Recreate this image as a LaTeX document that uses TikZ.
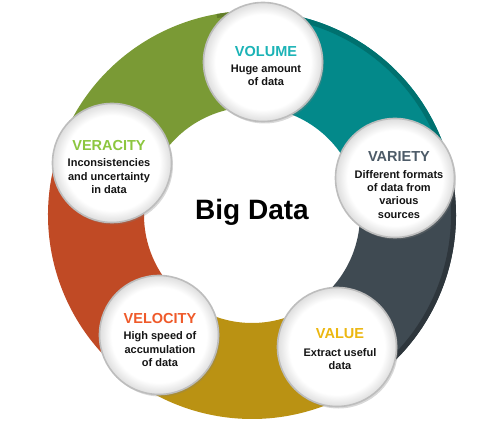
\documentclass[tikz,border=0pt]{standalone}
\usepackage{fontspec}
\setmainfont{Liberation Sans}
\usetikzlibrary{shadows}
\definecolor{BDTeal}{HTML}{03898A}
\definecolor{BDTealDark}{HTML}{00716F}
\definecolor{BDSlate}{HTML}{3F4A52}
\definecolor{BDSlateDark}{HTML}{2E363C}
\definecolor{BDGold}{HTML}{BA9213}
\definecolor{BDRust}{HTML}{C04A25}
\definecolor{BDOlive}{HTML}{7A9A35}
\definecolor{BDOliveDark}{HTML}{627D28}
\definecolor{BDTealText}{HTML}{1BB3B6}
\definecolor{BDSlateText}{HTML}{4D5B68}
\definecolor{BDGoldText}{HTML}{ECB710}
\definecolor{BDRustText}{HTML}{EF5A2A}
\definecolor{BDOliveText}{HTML}{8CC63F}
\pgfdeclareradialshading{bubble}{\pgfpoint{0bp}{0bp}}{color(0bp)=(white); color(20bp)=(white); color(25bp)=(black!13); color(50bp)=(black!13)}
\newcommand{\titlefont}{\fontsize{14.5}{16}\selectfont}
\tikzset{
    % White bubbles sitting on the ring
    bubble/.style={
        circle,
        draw=black!26,
        line width=1.6pt,
        shading=bubble,
        minimum size=119pt,
        inner sep=0pt,
        drop shadow={opacity=0.3, shadow xshift=1.5pt, shadow yshift=-2pt}
    },
    bubble text/.style={
        align=center,
        inner sep=0pt,
        text=black!92,
        font=\bfseries\fontsize{11}{13.3}\selectfont
    },
    center label/.style={
        font=\bfseries\fontsize{28}{32}\selectfont,
        text=black
    }
}
\begin{document}
\begin{tikzpicture}[x=1pt, y=1pt]
        \useasboundingbox (-252,-207) rectangle (248,215);

        % Ring segments
        \fill[BDTeal] (14:204) arc[start angle=14, end angle=86, radius=204]
            -- (86:108) arc[start angle=86, end angle=14, radius=108] -- cycle;
        \fill[BDOlive] (86:204) arc[start angle=86, end angle=158, radius=204]
            -- (158:108) arc[start angle=158, end angle=86, radius=108] -- cycle;
        \fill[BDRust] (158:204) arc[start angle=158, end angle=230, radius=204]
            -- (230:108) arc[start angle=230, end angle=158, radius=108] -- cycle;
        \fill[BDGold] (230:204) arc[start angle=230, end angle=302, radius=204]
            -- (302:108) arc[start angle=302, end angle=230, radius=108] -- cycle;
        \fill[BDSlate] (302:204) arc[start angle=302, end angle=374, radius=204]
            -- (374:108) arc[start angle=374, end angle=302, radius=108] -- cycle;

        % Darker outer lips
        \fill[BDTealDark] (14:204) arc[start angle=14, end angle=80, radius=204]
            -- (80:199) arc[start angle=80, end angle=14, radius=199] -- cycle;
        \fill[BDSlateDark] (-50:204) arc[start angle=-50, end angle=8, radius=204]
            -- (8:199) arc[start angle=8, end angle=-50, radius=199] -- cycle;
        \fill[BDOliveDark] (100:204) arc[start angle=100, end angle=88, radius=204]
            -- (88:200) arc[start angle=88, end angle=100, radius=200] -- cycle;

        % Centre
        \node[center label] (bigdata) at (0,3) {Big Data};

        % Bubbles
        \node[bubble] (volume) at (11,153) {};
        \node[bubble] (variety) at (143,37) {};
        \node[bubble] (value) at (85,-132) {};
        \node[bubble] (velocity) at (-93,-120) {};
        \node[bubble] (veracity) at (-140,52) {};

        % Bubble texts
        \node[bubble text] (volumetext) at ([xshift=3pt, yshift=-4pt]volume.center) {
            {\titlefont\textcolor{BDTealText}{VOLUME}}\\[3pt]
            Huge amount\\
            of data
        };

        \node[bubble text] (varietytext) at ([xshift=4pt, yshift=-7pt]variety.center) {
            {\titlefont\textcolor{BDSlateText}{VARIETY}}\\[3pt]
            Different formats\\
            of data from\\
            various\\
            sources
        };

        \node[bubble text] (valuetext) at ([xshift=3pt, yshift=-2pt]value.center) {
            {\titlefont\textcolor{BDGoldText}{VALUE}}\\[5pt]
            Extract useful\\
            data
        };

        \node[bubble text] (velocitytext) at ([xshift=1pt, yshift=-5pt]velocity.center) {
            {\titlefont\textcolor{BDRustText}{VELOCITY}}\\[3pt]
            High speed of\\
            accumulation\\
            of data
        };

        \node[bubble text] (veracitytext) at ([xshift=-3pt, yshift=-4pt]veracity.center) {
            {\titlefont\textcolor{BDOliveText}{VERACITY}}\\[3pt]
            Inconsistencies\\
            and uncertainty\\
            in data
        };
    \end{tikzpicture}
\end{document}
